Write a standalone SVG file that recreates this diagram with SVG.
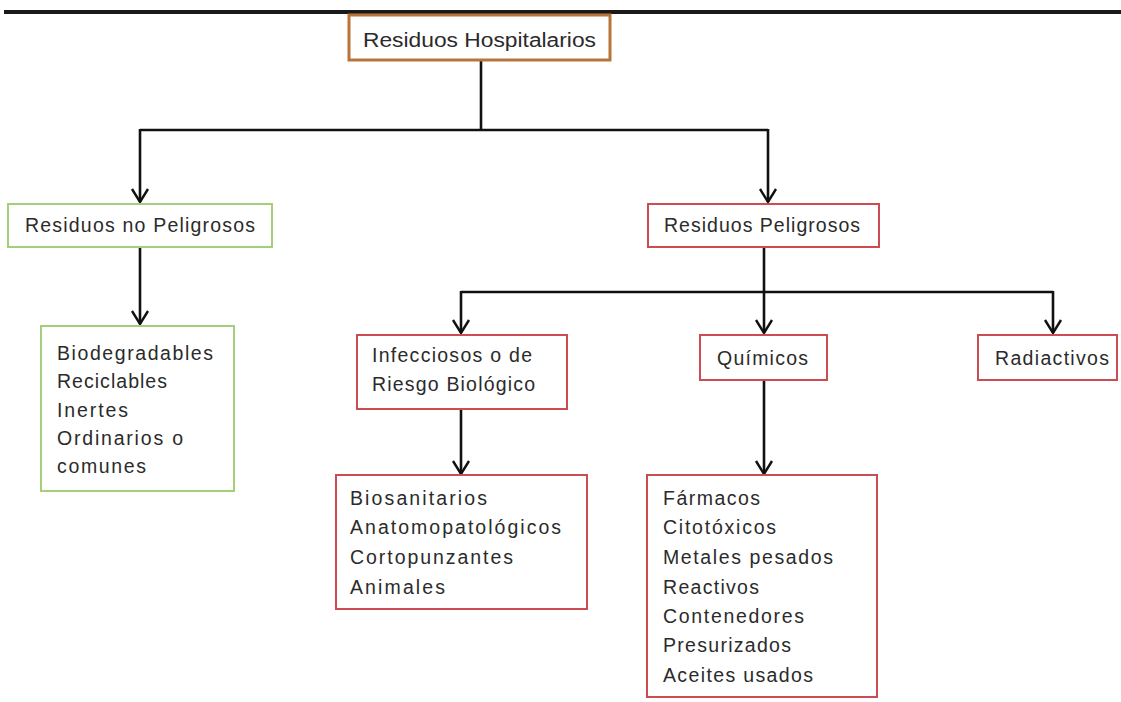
<svg xmlns="http://www.w3.org/2000/svg" width="1121" height="702" viewBox="0 0 1121 702">
<defs>
<marker id="arr" viewBox="0 0 20 20" refX="18" refY="10" markerWidth="20" markerHeight="20" markerUnits="userSpaceOnUse" orient="auto">
<path d="M5,2 L18,10 L5,18" fill="none" stroke="#111" stroke-width="2.4" stroke-linejoin="miter"/>
</marker>
<style>
.t{font-family:"Liberation Sans",Arial,sans-serif;font-size:19.5px;fill:#2b2b2b;}
.g{fill:#fff;stroke:#a3cf78;stroke-width:2;}
.r{fill:#fff;stroke:#cc4c52;stroke-width:2;}
.b{fill:#fff;stroke:#b9743a;stroke-width:3;}
.c{fill:none;stroke:#111;stroke-width:2.6;}
</style>
</defs>
<rect x="0" y="0" width="1121" height="702" fill="#fff"/>
<rect x="4" y="10" width="1117" height="4" fill="#1a1a1a"/>
<g id="connectors">
<path class="c" d="M481,60 V130"/>
<path class="c" d="M140,130 H768"/>
<path class="c" d="M140,129 V202" marker-end="url(#arr)"/>
<path class="c" d="M768,129 V202" marker-end="url(#arr)"/>
<path class="c" d="M140,247 V324" marker-end="url(#arr)"/>
<path class="c" d="M764,248 V333" marker-end="url(#arr)"/>
<path class="c" d="M461,292 H1053"/>
<path class="c" d="M461,291 V333" marker-end="url(#arr)"/>
<path class="c" d="M1053,291 V333" marker-end="url(#arr)"/>
<path class="c" d="M461,409 V474" marker-end="url(#arr)"/>
<path class="c" d="M764,380 V474" marker-end="url(#arr)"/>
</g>
<g id="root">
<rect class="b" x="349" y="15" width="261" height="45"/>
<text class="t" x="363" y="47" font-size="22" textLength="233" lengthAdjust="spacingAndGlyphs">Residuos Hospitalarios</text>
</g>
<g id="no-peligrosos">
<rect class="g" x="8" y="204" width="264" height="43"/>
<text class="t" x="25" y="232" textLength="230" lengthAdjust="spacing">Residuos no Peligrosos</text>
</g>
<g id="no-peligrosos-list">
<rect class="g" x="41" y="326" width="193" height="165"/>
<text class="t" x="57" y="360" textLength="156" lengthAdjust="spacing">Biodegradables</text>
<text class="t" x="57" y="388" textLength="110" lengthAdjust="spacing">Reciclables</text>
<text class="t" x="57" y="417" textLength="71" lengthAdjust="spacing">Inertes</text>
<text class="t" x="57" y="445" textLength="126" lengthAdjust="spacing">Ordinarios o</text>
<text class="t" x="57" y="473" textLength="89" lengthAdjust="spacing">comunes</text>
</g>
<g id="peligrosos">
<rect class="r" x="648" y="204" width="231" height="43"/>
<text class="t" x="664" y="232" textLength="196" lengthAdjust="spacing">Residuos Peligrosos</text>
</g>
<g id="infecciosos">
<rect class="r" x="357" y="335" width="210" height="74"/>
<text class="t" x="372" y="362" textLength="160" lengthAdjust="spacing">Infecciosos o de</text>
<text class="t" x="372" y="391" textLength="163" lengthAdjust="spacing">Riesgo Biológico</text>
</g>
<g id="quimicos">
<rect class="r" x="700" y="335" width="127" height="45"/>
<text class="t" x="717" y="365" textLength="91" lengthAdjust="spacing">Químicos</text>
</g>
<g id="radiactivos">
<rect class="r" x="978" y="335" width="139" height="45"/>
<text class="t" x="995" y="365" textLength="114" lengthAdjust="spacing">Radiactivos</text>
</g>
<g id="infecciosos-list">
<rect class="r" x="336" y="475" width="251" height="134"/>
<text class="t" x="350" y="505" textLength="137" lengthAdjust="spacing">Biosanitarios</text>
<text class="t" x="350" y="534" textLength="211" lengthAdjust="spacing">Anatomopatológicos</text>
<text class="t" x="350" y="564" textLength="163" lengthAdjust="spacing">Cortopunzantes</text>
<text class="t" x="350" y="594" textLength="95" lengthAdjust="spacing">Animales</text>
</g>
<g id="quimicos-list">
<rect class="r" x="647" y="475" width="230" height="222"/>
<text class="t" x="663" y="505" textLength="97" lengthAdjust="spacing">Fármacos</text>
<text class="t" x="663" y="534" textLength="113" lengthAdjust="spacing">Citotóxicos</text>
<text class="t" x="663" y="564" textLength="170" lengthAdjust="spacing">Metales pesados</text>
<text class="t" x="663" y="594" textLength="96" lengthAdjust="spacing">Reactivos</text>
<text class="t" x="663" y="623" textLength="141" lengthAdjust="spacing">Contenedores</text>
<text class="t" x="663" y="652" textLength="128" lengthAdjust="spacing">Presurizados</text>
<text class="t" x="663" y="682" textLength="150" lengthAdjust="spacing">Aceites usados</text>
</g>
</svg>
